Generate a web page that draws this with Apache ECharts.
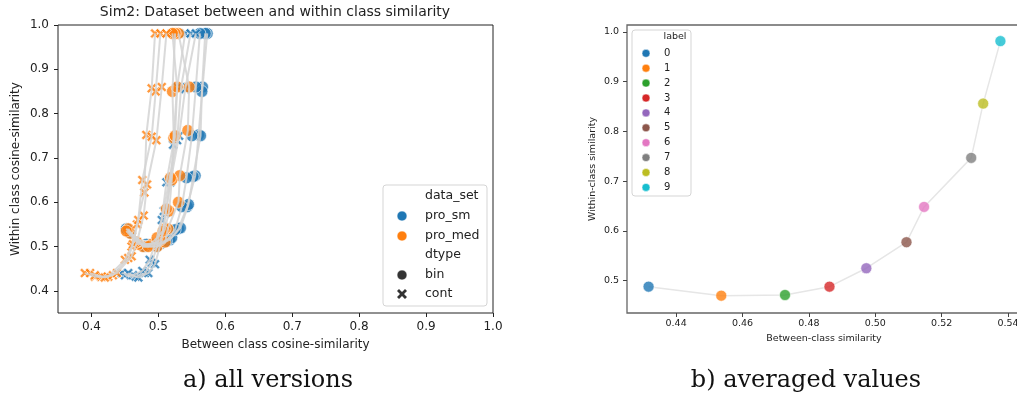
<!DOCTYPE html>
<html><head><meta charset="utf-8">
<script src="https://cdn.jsdelivr.net/npm/echarts@6/dist/echarts.min.js"></script>
<style>html,body{margin:0;padding:0;background:#fff;overflow:hidden}#c{width:1040px;height:399px}</style>
</head><body><div id="c"></div>
<script>
// ---- tick labels ----
const xTicksLeft = [0.4, 0.5, 0.6, 0.7, 0.8, 0.9, 1.0];
const yTicksLeft = [0.4, 0.5, 0.6, 0.7, 0.8, 0.9, 1.0];
const xTicksRight = [0.44, 0.46, 0.48, 0.50, 0.52, 0.54];
const yTicksRight = [0.5, 0.6, 0.7, 0.8, 0.9, 1.0];

// ---- left panel: all versions (x = between, y = within), one row per version, labels 0..9 ----
const smBinX = [
  [0.455, 0.478, 0.500, 0.517, 0.530, 0.543, 0.555, 0.560, 0.566, 0.573],
  [0.458, 0.482, 0.505, 0.520, 0.533, 0.545, 0.552, 0.563, 0.565, 0.570],
  [0.452, 0.480, 0.498, 0.512, 0.525, 0.535, 0.542, 0.550, 0.556, 0.562]
];
const smBinY = [
  [0.535, 0.500, 0.505, 0.515, 0.540, 0.590, 0.660, 0.752, 0.860, 0.981],
  [0.530, 0.505, 0.510, 0.520, 0.542, 0.595, 0.658, 0.750, 0.850, 0.981],
  [0.540, 0.500, 0.500, 0.512, 0.538, 0.590, 0.655, 0.750, 0.860, 0.981]
];
const smContX = [
  [0.450, 0.466, 0.480, 0.490, 0.498, 0.505, 0.512, 0.522, 0.528, 0.540],
  [0.445, 0.462, 0.476, 0.487, 0.496, 0.508, 0.516, 0.528, 0.534, 0.548],
  [0.455, 0.470, 0.485, 0.495, 0.503, 0.511, 0.518, 0.531, 0.540, 0.556]
];
const smContY = [
  [0.435, 0.432, 0.440, 0.463, 0.500, 0.560, 0.645, 0.730, 0.860, 0.981],
  [0.440, 0.435, 0.445, 0.470, 0.510, 0.580, 0.650, 0.740, 0.860, 0.981],
  [0.440, 0.430, 0.440, 0.460, 0.505, 0.575, 0.645, 0.750, 0.855, 0.981]
];
const medBinX = [
  [0.458, 0.477, 0.498, 0.510, 0.514, 0.530, 0.532, 0.544, 0.546, 0.530],
  [0.455, 0.470, 0.490, 0.503, 0.510, 0.516, 0.520, 0.523, 0.521, 0.525],
  [0.452, 0.468, 0.485, 0.498, 0.507, 0.512, 0.518, 0.525, 0.528, 0.521]
];
const medBinY = [
  [0.530, 0.500, 0.500, 0.510, 0.540, 0.600, 0.660, 0.762, 0.860, 0.981],
  [0.540, 0.505, 0.505, 0.515, 0.540, 0.580, 0.650, 0.745, 0.850, 0.981],
  [0.535, 0.510, 0.500, 0.520, 0.535, 0.585, 0.655, 0.750, 0.860, 0.981]
];
const medContX = [
  [0.390, 0.405, 0.425, 0.450, 0.460, 0.468, 0.479, 0.482, 0.490, 0.495],
  [0.398, 0.415, 0.432, 0.455, 0.462, 0.470, 0.476, 0.490, 0.496, 0.503],
  [0.405, 0.420, 0.438, 0.460, 0.468, 0.478, 0.483, 0.497, 0.505, 0.512]
];
const medContY = [
  [0.440, 0.432, 0.432, 0.470, 0.500, 0.550, 0.622, 0.752, 0.857, 0.981],
  [0.440, 0.432, 0.435, 0.474, 0.505, 0.560, 0.650, 0.748, 0.850, 0.981],
  [0.435, 0.430, 0.440, 0.478, 0.510, 0.570, 0.640, 0.740, 0.860, 0.981]
];

// ---- right panel: averaged values per label ----
const labels = ['0', '1', '2', '3', '4', '5', '6', '7', '8', '9'];
const avgBetween = [0.4317, 0.4536, 0.4728, 0.4862, 0.4973, 0.5094, 0.5147, 0.5289, 0.5325, 0.5377];
const avgWithin  = [0.4880, 0.4698, 0.4712, 0.4880, 0.5250, 0.5773, 0.6483, 0.7469, 0.8561, 0.9817];
const labelColors = ['#1f77b4', '#ff7f0e', '#2ca02c', '#d62728', '#9467bd', '#8c564b', '#e377c2', '#7f7f7f', '#bcbd22', '#17becf'];

const BLUE = '#1f77b4', ORANGE = '#ff7f0e';
const XPATH = 'path://M2,0L5,3L8,0L10,2L7,5L10,8L8,10L5,7L2,10L0,8L3,5L0,2Z';
const FONT = 'DejaVu Sans';

const zip = (a, b) => a.map((v, i) => [v, b[i]]);
const series = [];
const groups = [
  { xs: smBinX, ys: smBinY, color: BLUE, sym: 'circle', size: 12 },
  { xs: smContX, ys: smContY, color: BLUE, sym: XPATH, size: 10 },
  { xs: medBinX, ys: medBinY, color: ORANGE, sym: 'circle', size: 12 },
  { xs: medContX, ys: medContY, color: ORANGE, sym: XPATH, size: 10 }
];
groups.forEach(g => {
  g.xs.forEach((xv, k) => {
    const d = zip(xv, g.ys[k]);
    series.push({
      type: 'scatter', xAxisIndex: 0, yAxisIndex: 0, data: d, symbol: g.sym, symbolSize: g.size,
      itemStyle: { color: g.color, borderColor: '#fff', borderWidth: 0.8 }, z: 2, silent: true
    });
    series.push({
      type: 'line', xAxisIndex: 0, yAxisIndex: 0, data: d, symbol: 'none', showSymbol: false,
      lineStyle: { color: '#d3d3d3', width: 2, opacity: 0.85 }, z: 3, silent: true
    });
  });
});
series.push({
  type: 'line', xAxisIndex: 1, yAxisIndex: 1, data: zip(avgBetween, avgWithin), symbol: 'none',
  lineStyle: { color: '#e6e6e6', width: 1.5 }, z: 2, silent: true
});
labels.forEach((l, i) => {
  series.push({
    type: 'scatter', name: l, xAxisIndex: 1, yAxisIndex: 1, data: [[avgBetween[i], avgWithin[i]]],
    symbol: 'circle', symbolSize: 11,
    itemStyle: { color: labelColors[i], borderColor: '#fff', borderWidth: 0.7 }, z: 3, silent: true
  });
});

// ---- legends / titles (graphic) ----
const graphic = [];
graphic.push({ type: 'text', style: { text: 'Sim2: Dataset between and within class similarity', x: 275, y: 12, textAlign: 'center', textVerticalAlign: 'middle', font: '14px "DejaVu Sans"', fill: '#222' } });
graphic.push({ type: 'text', style: { text: 'a) all versions', x: 268, y: 381, textAlign: 'center', textVerticalAlign: 'middle', font: '24px "DejaVu Serif"', fill: '#111' } });
graphic.push({ type: 'text', style: { text: 'b) averaged values', x: 806, y: 381, textAlign: 'center', textVerticalAlign: 'middle', font: '24px "DejaVu Serif"', fill: '#111' } });

// left legend
graphic.push({ type: 'rect', z: 100, shape: { x: 383, y: 185, width: 104, height: 121, r: 3 }, style: { fill: 'rgba(255,255,255,0.85)', stroke: '#d5d5d5', lineWidth: 1 } });
const leftLegendRows = [
  ['data_set', null], ['pro_sm', BLUE], ['pro_med', ORANGE], ['dtype', null], ['bin', 'circ'], ['cont', 'x']
];
const leftRowY = [195.5, 216, 236, 255, 275, 294];
leftLegendRows.forEach((r, i) => {
  graphic.push({ type: 'text', z: 101, style: { text: r[0], x: 425, y: leftRowY[i], textVerticalAlign: 'middle', font: '12.5px "DejaVu Sans"', fill: '#222' } });
  if (r[1] === BLUE || r[1] === ORANGE) {
    graphic.push({ type: 'circle', z: 101, shape: { cx: 402, cy: leftRowY[i], r: 5 }, style: { fill: r[1], stroke: '#fff', lineWidth: 0.6 } });
  } else if (r[1] === 'circ') {
    graphic.push({ type: 'circle', z: 101, shape: { cx: 402, cy: leftRowY[i], r: 5 }, style: { fill: '#333', stroke: '#fff', lineWidth: 0.6 } });
  } else if (r[1] === 'x') {
    const cy = leftRowY[i], cx = 402;
    const p = [[-3,-5],[0,-2],[3,-5],[5,-3],[2,0],[5,3],[3,5],[0,2],[-3,5],[-5,3],[-2,0],[-5,-3]].map(q => [cx + q[0], cy + q[1]]);
    graphic.push({ type: 'polygon', z: 101, shape: { points: p }, style: { fill: '#333' } });
  }
});

// right legend
graphic.push({ type: 'rect', z: 100, shape: { x: 632, y: 30, width: 59, height: 166, r: 3 }, style: { fill: 'rgba(255,255,255,0.85)', stroke: '#d5d5d5', lineWidth: 1 } });
graphic.push({ type: 'text', z: 101, style: { text: 'label', x: 675, y: 37, textAlign: 'center', textVerticalAlign: 'middle', font: '9.5px "DejaVu Sans"', fill: '#222' } });
labels.forEach((l, i) => {
  const cy = 53.3 + i * 14.9;
  graphic.push({ type: 'circle', z: 101, shape: { cx: 646, cy: cy, r: 4 }, style: { fill: labelColors[i], stroke: '#fff', lineWidth: 0.5 } });
  graphic.push({ type: 'text', z: 101, style: { text: l, x: 664, y: cy, textVerticalAlign: 'middle', font: '10px "DejaVu Sans"', fill: '#222' } });
});

const axisCommon = (fs) => ({
  axisLine: { show: false },
  splitLine: { show: false },
  nameTextStyle: { fontFamily: FONT, fontSize: fs, color: '#222' }
});

const option = {
  animation: false,
  backgroundColor: '#fff',
  grid: [
    { left: 58, top: 25, width: 435, height: 288, show: true, borderColor: '#222', borderWidth: 1, backgroundColor: 'transparent' },
    { left: 627, top: 25, width: 394, height: 288, show: true, borderColor: '#666', borderWidth: 1.3, backgroundColor: 'transparent' }
  ],
  xAxis: [
    Object.assign(axisCommon(12), {
      type: 'value', gridIndex: 0, min: 0.35, max: 1.0,
      name: 'Between class cosine-similarity', nameLocation: 'middle', nameGap: 26,
      axisTick: { show: true, length: 4, lineStyle: { color: '#222' }, customValues: xTicksLeft },
      axisLabel: { customValues: xTicksLeft, formatter: v => v.toFixed(1), fontFamily: FONT, fontSize: 12, color: '#222', margin: 8 }
    }),
    Object.assign(axisCommon(9.5), {
      type: 'value', gridIndex: 1, min: 0.4252, max: 0.5439,
      name: 'Between-class similarity', nameLocation: 'middle', nameGap: 20,
      axisTick: { show: true, length: 4, lineStyle: { color: '#444' }, customValues: xTicksRight },
      axisLabel: { customValues: xTicksRight, formatter: v => v.toFixed(2), fontFamily: FONT, fontSize: 9.5, color: '#222', margin: 6 }
    })
  ],
  yAxis: [
    Object.assign(axisCommon(12), {
      type: 'value', gridIndex: 0, min: 0.35, max: 1.0,
      name: 'Within class cosine-similarity', nameLocation: 'middle', nameGap: 36,
      axisTick: { show: true, length: 4, lineStyle: { color: '#222' }, customValues: yTicksLeft },
      axisLabel: { customValues: yTicksLeft, formatter: v => v.toFixed(1), fontFamily: FONT, fontSize: 12, color: '#222', margin: 9 }
    }),
    Object.assign(axisCommon(9.5), {
      type: 'value', gridIndex: 1, min: 0.435, max: 1.0141,
      name: 'Within-class similarity', nameLocation: 'middle', nameGap: 29,
      axisTick: { show: true, length: 4, lineStyle: { color: '#444' }, customValues: yTicksRight },
      axisLabel: { customValues: yTicksRight, formatter: v => v.toFixed(1), fontFamily: FONT, fontSize: 9.5, color: '#222', margin: 8 }
    })
  ],
  series: series,
  graphic: graphic
};
const chart = echarts.init(document.getElementById('c'), null, { renderer: 'canvas' });
chart.setOption(option);
</script></body></html>
